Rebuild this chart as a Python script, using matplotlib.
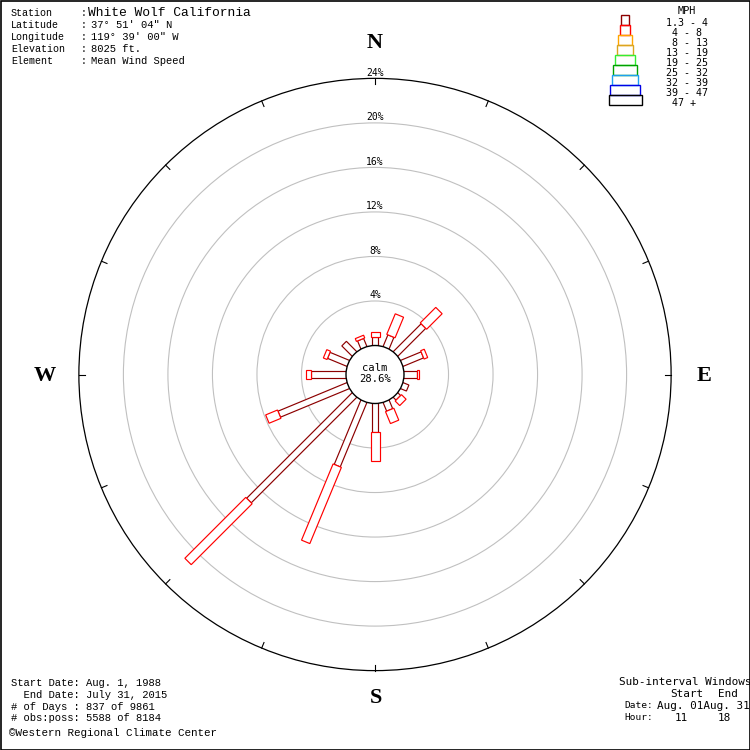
import numpy as np
import matplotlib
matplotlib.use("Agg")
import matplotlib.pyplot as plt
from matplotlib.patches import Polygon, Circle, Rectangle

# ---------------- data ----------------
directions = ["N", "NNE", "NE", "ENE", "E", "ESE", "SE", "SSE",
              "S", "SSW", "SW", "WSW", "W", "WNW", "NW", "NNW"]
pct_1_3_to_4 = [0.79, 1.13, 3.55, 2.00, 1.14, 0.57, 0.36, 0.84,
                2.53, 6.26, 13.41, 6.71, 3.17, 1.89, 1.32, 0.78]
pct_4_to_8 = [0.45, 2.00, 1.97, 0.35, 0.23, 0.00, 0.58, 1.16,
              2.63, 7.41, 7.74, 1.15, 0.45, 0.36, 0.00, 0.27]
calm_pct = 28.6
ring_pcts = [4, 8, 12, 16, 20, 24]

speed_bins = ["1.3 - 4", " 4 - 8", " 8 - 13", "13 - 19", "19 - 25",
              "25 - 32", "32 - 39", "39 - 47", " 47 +"]
bin_colors = ["#8c0000", "#ff0000", "#ffa500", "#daa520", "#33ee33",
              "#00a000", "#1ea0f0", "#0000e6", "#000000"]

header_labels = ["Station", "Latitude", "Longitude", "Elevation", "Element"]
header_values = ["White Wolf California", "37\u00b0 51' 04\" N", "119\u00b0 39' 00\" W",
                 "8025 ft.", "Mean Wind Speed"]
footer_lines = ["Start Date: Aug. 1, 1988", "  End Date: July 31, 2015",
                "# of Days : 837 of 9861", "# obs:poss: 5588 of 8184"]
credit = "\u00a9Western Regional Climate Center"
compass = ["N", "E", "S", "W"]

# ---------------- layout ----------------
W = 750
S = 11.13              # pixels per percent
CX, CY = 375.0, 374.5  # centre in pixels
calm_r = 29.0 / S      # calm circle radius (percent units)

fig = plt.figure(figsize=(7.5, 7.5), dpi=100)
fig.patch.set_facecolor("white")
ax = fig.add_axes([0, 0, 1, 1])
ax.set_xlim(-CX / S, (W - CX) / S)
ax.set_ylim(-(W - CY) / S, CY / S)
ax.axis("off")

lax = fig.add_axes([0, 0, 1, 1], zorder=5)
lax.set_xlim(0, W)
lax.set_ylim(W, 0)
lax.axis("off")
lax.patch.set_alpha(0)

# rings
for k in ring_pcts:
    r = calm_r + k
    col = "black" if k == ring_pcts[-1] else "#c0c0c0"
    ax.add_patch(Circle((0, 0), r, fill=False, ec=col, lw=0.9 if k == ring_pcts[-1] else 0.8, zorder=1))
    ax.text(0, r + 2.5 / S, f"{k}%", ha="center", va="baseline",
            family="DejaVu Sans Mono", fontsize=7, zorder=6)

Rout = calm_r + ring_pcts[-1]
for i in range(len(directions)):
    th = np.deg2rad(i * 22.5)
    u = np.array([np.sin(th), np.cos(th)])
    ax.plot([Rout * u[0], (Rout - 6 / S) * u[0]], [Rout * u[1], (Rout - 6 / S) * u[1]],
            color="black", lw=0.8, zorder=2)


def bar(theta_deg, r0, r1, width, color):
    th = np.deg2rad(theta_deg)
    u = np.array([np.sin(th), np.cos(th)])
    v = np.array([np.cos(th), -np.sin(th)])
    h = width / 2
    pts = [r0 * u + h * v, r1 * u + h * v, r1 * u - h * v, r0 * u - h * v]
    ax.add_patch(Polygon(pts, closed=True, fc="white", ec=color, lw=0.85, zorder=3))


w1 = 6.5 / S
w2 = 9.0 / S
for i, d in enumerate(directions):
    th = i * 22.5
    a = pct_1_3_to_4[i]
    b = pct_4_to_8[i]
    r0 = calm_r - 0.3
    r1 = calm_r + a
    bar(th, r0, r1, w1, bin_colors[0])
    if b > 0:
        bar(th, r1, r1 + b, w2, bin_colors[1])

ax.add_patch(Circle((0, 0), calm_r, fc="white", ec="black", lw=1.0, zorder=4))
ax.text(0, 6.8 / S, "calm", ha="center", va="center", family="DejaVu Sans Mono", fontsize=7.6, zorder=6)
ax.text(0, -4.5 / S, f"{calm_pct}%", ha="center", va="center", family="DejaVu Sans Mono", fontsize=7.6, zorder=6)

# compass letters
cpos = {"N": (375, 43), "E": (704, 376), "S": (376, 698), "W": (45, 376)}
for c in compass:
    x, y = cpos[c]
    lax.text(x, y, c, ha="center", va="center", family="Liberation Serif",
             fontweight="bold", fontsize=16)

# header
for j, (lab, val) in enumerate(zip(header_labels, header_values)):
    y = 12.5 + 12 * j
    lax.text(11, y, lab, ha="left", va="center", family="Liberation Mono", fontsize=7.2)
    lax.text(81, y, ":", ha="left", va="center", family="Liberation Mono", fontsize=7.2)
    lax.text(88 if j == 0 else 91, y, val, ha="left", va="center", family="Liberation Mono",
             fontsize=9.4 if j == 0 else 7.6)

# footer left
for j, line in enumerate(footer_lines):
    lax.text(11, 683 + 11.8 * j, line, ha="left", va="center", family="Liberation Mono", fontsize=7.6)
lax.text(9, 733, credit, ha="left", va="center", family="Liberation Mono", fontsize=7.8)

# footer right
sub_font = dict(family="DejaVu Sans Mono", fontsize=7.9, va="center")
small_font = dict(family="DejaVu Sans Mono", fontsize=6.8, va="center")
lax.text(619, 682, "Sub-interval Windows", ha="left", **sub_font)
lax.text(670, 694, "Start", ha="left", **sub_font)
lax.text(718, 694, "End", ha="left", **sub_font)
lax.text(624, 706, "Date:", ha="left", **small_font)
lax.text(657, 706, "Aug. 01Aug. 31", ha="left", **sub_font)
lax.text(624, 718, "Hour:", ha="left", **small_font)
lax.text(675, 718, "11", ha="left", **sub_font)
lax.text(718, 718, "18", ha="left", **sub_font)

# legend
leg_widths = [7.7, 10, 13.7, 16.3, 20, 23.7, 25.7, 29.7, 32.7]
lax.text(686.5, 11, "MPH", ha="center", va="center", family="DejaVu Sans Mono", fontsize=7.4)
for j, (lab, col) in enumerate(zip(speed_bins, bin_colors)):
    top = 15 + 10 * j
    wdt = leg_widths[j]
    lax.add_patch(Rectangle((625.3 - wdt / 2, top), wdt, 10, fill=False, ec=col, lw=1.0))
    lax.text(666, 22.5 + 10 * j, lab, ha="left", va="center", family="DejaVu Sans Mono", fontsize=7.2)

# frame
lax.add_patch(Rectangle((0.5, 0.5), W - 1, W - 1, fill=False, ec="black", lw=1.2, clip_on=False))

fig.savefig("out.png", dpi=100, facecolor="white")
